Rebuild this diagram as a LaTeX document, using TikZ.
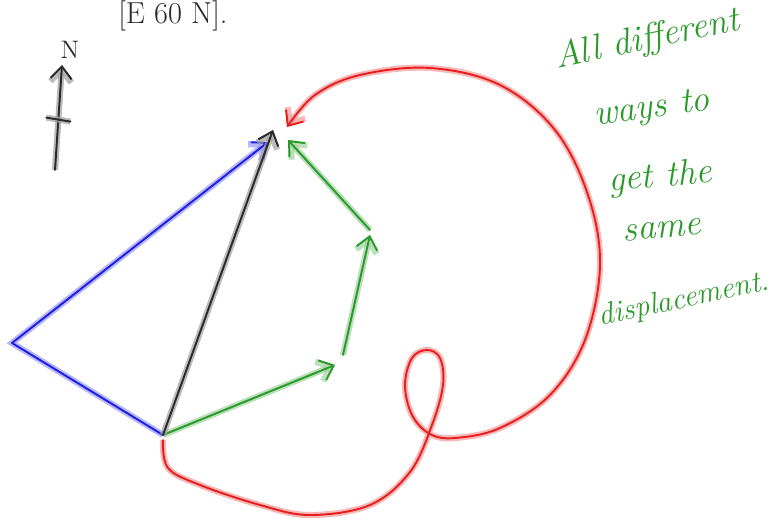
\documentclass[tikz,border=0pt]{standalone}
\usepackage{tikz}
\usetikzlibrary{arrows.meta, calc}
\usepackage{xcolor}
\definecolor{penblue}{HTML}{1E1EE6}
\definecolor{penred}{HTML}{E81E1E}
\definecolor{pengreen}{HTML}{2A9A2A}
\definecolor{penblack}{HTML}{2A2A2A}

\begin{document}
\begin{tikzpicture}[
    x=0.02cm, y=-0.02cm,
    >={Straight Barb[length=7pt, width=12pt]},
    ink/.style={
        line width=1.1pt,
        line cap=round,
        line join=round,
        draw=#1,
        preaction={draw=#1!45, line width=3.5pt, opacity=0.7},
    },
    note/.style={
        font=\huge\itshape,
        text=pengreen,
        inner sep=1pt,
    },
]
\useasboundingbox (0,0) rectangle (779,520);

% --- Points of the path ---
\coordinate (start) at (163,435);
\coordinate (finish) at (273,130);
\coordinate (west) at (12,343);
\coordinate (g1) at (335,365);
\coordinate (g2) at (370,235);

% --- Heading, cut off at the top ---
\node[anchor=base west, font=\LARGE, text=penblack, inner sep=0pt] (heading) at (118,24) {[E 60 N].};

% --- North marker ---
\coordinate (nbase) at (55,170);
\coordinate (ntip) at (62,65);
\draw[ink=penblack, ->] (nbase) -- (ntip);
\draw[ink=penblack] ($(nbase)!0.48!(ntip)+(-12,-2)$) -- ($(nbase)!0.48!(ntip)+(12,2)$);
\node[font=\Large, text=penblack] (north) at (70,50) {N};

% --- Blue route ---
\draw[ink=penblue, ->] (start) -- (west) -- ([shift={(-5,12)}]finish);

% --- Green route ---
\draw[ink=pengreen, ->] (start) -- (g1);
\draw[ink=pengreen, ->] ([shift={(8,-10)}]g1) -- (g2);
\draw[ink=pengreen, ->] ([shift={(0,-5)}]g2) -- ([shift={(15,10)}]finish);

% --- Red route with a loop ---
\draw[ink=penred, ->] plot[smooth, tension=0.6] coordinates {
    (163,440) (168,468) (200,485) (260,505) (310,515) (370,505)
    (410,472) (432,425) (443,385) (440,358) (427,350) (412,358)
    (405,385) (412,415) (430,434) (455,438) (500,428) (550,395)
    (585,340) (600,265) (588,195) (555,130) (500,85) (430,68)
    (360,75) (315,95) (287,127)};

% --- Displacement ---
\draw[ink=penblack, ->] (start) -- (finish);

% --- Note ---
\node[note, rotate=12] (line1) at (647,40) {All different};
\node[note, rotate=8] (line2) at (652,110) {ways to};
\node[note, rotate=5] (line3) at (660,178) {get the};
\node[note, rotate=5] (line4) at (662,230) {same};
\node[note, font=\LARGE\itshape, rotate=12] (line5) at (684,300) {displacement.};

\end{tikzpicture}
\end{document}
